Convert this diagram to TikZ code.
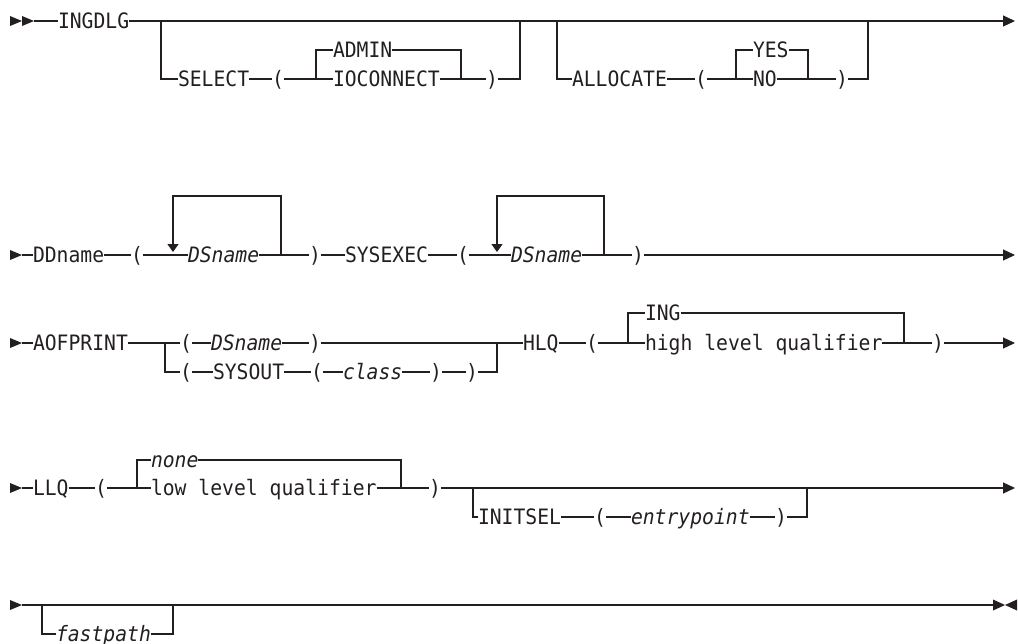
\documentclass[tikz,border=0pt]{standalone}
\usepackage{fontspec}
\newfontfamily\synfont{DejaVu Sans Mono}[FakeStretch=0.93,ItalicFont={DejaVu Sans Mono Oblique}]
\usetikzlibrary{arrows.meta}
\definecolor{ink}{RGB}{35,31,32}
\tikzset{
  tok/.style={font=\synfont\fontsize{21.2}{22}\selectfont, inner sep=0pt, outer sep=0pt,
              text height=15.4pt, text depth=0pt, anchor=west, text=ink},
  var/.style={tok, font=\synfont\itshape\fontsize{21.2}{22}\selectfont},
  endtip/.style={-{Triangle[width=11pt,length=12pt]}},
  looptip/.style={-{Triangle[width=11pt,length=8pt]}},
}
\begin{document}
\begin{tikzpicture}[x=1pt,y=-1pt,line width=1.2pt,draw=ink]
\useasboundingbox (0,0) rectangle (1018,643);

% ---------- Row 1 ----------
\fill[ink] (10,16)--(22,21)--(10,26)--cycle (22,16)--(34,21)--(22,26)--cycle;
\coordinate (r1s) at (34,21);
\coordinate (r1e) at (1015,21);
\node[tok] (ingdlg) at (58,21) {INGDLG};
\draw (r1s) -- (ingdlg.west);
\draw[endtip] (ingdlg.east) -- (r1e);

\coordinate (j1a) at (161,21);
\coordinate (j1b) at (520,21);
\coordinate (k1a) at (316,79);
\coordinate (k1b) at (461,79);
\node[tok] (select) at (178,79) {SELECT};
\node[tok] (lp1) at (272,79) {(};
\node[tok] (admin) at (333,50) {ADMIN};
\node[tok] (ioconn) at (333,79) {IOCONNECT};
\node[tok] (rp1) at (486,79) {)};
\draw (j1a) |- (select.west);
\draw (select.east) -- (lp1.west);
\draw (lp1.east) -- (ioconn.west);
\draw (k1a) |- (admin.west);
\draw (admin.east) -| (k1b);
\draw (ioconn.east) -- (rp1.west);
\draw (rp1.east) -| (j1b);

\coordinate (j2a) at (557,21);
\coordinate (j2b) at (868,21);
\coordinate (k2a) at (736,79);
\coordinate (k2b) at (808,79);
\node[tok] (allocate) at (572,79) {ALLOCATE};
\node[tok] (lp2) at (695,79) {(};
\node[tok] (yes) at (753,50) {YES};
\node[tok] (no) at (753,79) {NO};
\node[tok] (rp2) at (836,79) {)};
\draw (j2a) |- (allocate.west);
\draw (allocate.east) -- (lp2.west);
\draw (lp2.east) -- (no.west);
\draw (k2a) |- (yes.west);
\draw (yes.east) -| (k2b);
\draw (no.east) -- (rp2.west);
\draw (rp2.east) -| (j2b);

% ---------- Row 2 ----------
\fill[ink] (10,250)--(22,255)--(10,260)--cycle;
\coordinate (r2s) at (22,255);
\coordinate (r2e) at (1015,255);
\node[tok] (ddname) at (33,255) {DDname};
\node[tok] (lp3) at (131,255) {(};
\node[var] (ds1) at (188,255) {DSname};
\node[tok] (rp3) at (309,255) {)};
\node[tok] (sysexec) at (345,255) {SYSEXEC};
\node[tok] (lp4) at (457,255) {(};
\node[var] (ds2) at (511,255) {DSname};
\node[tok] (rp4) at (632,255) {)};
\draw (r2s) -- (ddname.west);
\draw (ddname.east) -- (lp3.west);
\draw (lp3.east) -- (ds1.west);
\draw (ds1.east) -- (rp3.west);
\draw (rp3.east) -- (sysexec.west);
\draw (sysexec.east) -- (lp4.west);
\draw (lp4.east) -- (ds2.west);
\draw (ds2.east) -- (rp4.west);
\draw[endtip] (rp4.east) -- (r2e);

\coordinate (l1b) at (281,255);
\coordinate (l1t) at (173,196);
\coordinate (l1a) at (173,252);
\draw[looptip] (l1b) |- (l1t) -- (l1a);
\coordinate (l2b) at (604,255);
\coordinate (l2t) at (497,196);
\coordinate (l2a) at (497,252);
\draw[looptip] (l2b) |- (l2t) -- (l2a);

% ---------- Row 3 ----------
\fill[ink] (10,338)--(22,343)--(10,348)--cycle;
\coordinate (r3s) at (22,343);
\coordinate (r3e) at (1015,343);
\coordinate (j3a) at (165,343);
\coordinate (j3b) at (497,343);
\node[tok] (aofprint) at (33,343) {AOFPRINT};
\node[tok] (lp5) at (180,343) {(};
\node[var] (ds3) at (211,343) {DSname};
\node[tok] (rp5) at (309,343) {)};
\node[tok] (lp6) at (180,372) {(};
\node[tok] (sysout) at (213,372) {SYSOUT};
\node[tok] (lp7) at (311,372) {(};
\node[var] (class) at (343,372) {class};
\node[tok] (rp7) at (430,372) {)};
\node[tok] (rp6) at (466,372) {)};
\draw (r3s) -- (aofprint.west);
\draw (aofprint.east) -- (lp5.west);
\draw (lp5.east) -- (ds3.west);
\draw (ds3.east) -- (rp5.west);
\draw (j3a) |- (lp6.west);
\draw (lp6.east) -- (sysout.west);
\draw (sysout.east) -- (lp7.west);
\draw (lp7.east) -- (class.west);
\draw (class.east) -- (rp7.west);
\draw (rp7.east) -- (rp6.west);
\draw (rp6.east) -| (j3b);

\coordinate (k3a) at (628,343);
\coordinate (k3b) at (904,343);
\node[tok] (hlq) at (523,343) {HLQ};
\node[tok] (lp8) at (586,343) {(};
\node[tok] (ing) at (645,313) {ING};
\node[tok] (hlqual) at (645,343) {high level qualifier};
\node[tok] (rp8) at (932,343) {)};
\draw (rp5.east) -- (hlq.west);
\draw (hlq.east) -- (lp8.west);
\draw (lp8.east) -- (hlqual.west);
\draw (k3a) |- (ing.west);
\draw (ing.east) -| (k3b);
\draw (hlqual.east) -- (rp8.west);
\draw[endtip] (rp8.east) -- (r3e);

% ---------- Row 4 ----------
\fill[ink] (10,483)--(22,488)--(10,493)--cycle;
\coordinate (r4s) at (22,488);
\coordinate (r4e) at (1015,488);
\coordinate (k4a) at (137,488);
\coordinate (k4b) at (401,488);
\node[tok] (llq) at (33,488) {LLQ};
\node[tok] (lp9) at (95,488) {(};
\node[var] (none) at (151,460) {none};
\node[tok] (llqual) at (151,488) {low level qualifier};
\node[tok] (rp9) at (429,488) {)};
\draw (r4s) -- (llq.west);
\draw (llq.east) -- (lp9.west);
\draw (lp9.east) -- (llqual.west);
\draw (k4a) |- (none.west);
\draw (none.east) -| (k4b);
\draw (llqual.east) -- (rp9.west);
\draw[endtip] (rp9.east) -- (r4e);

\coordinate (j4a) at (473,488);
\coordinate (j4b) at (807,488);
\node[tok] (initsel) at (478,517) {INITSEL};
\node[tok] (lp10) at (594,517) {(};
\node[var] (entry) at (631,517) {entrypoint};
\node[tok] (rp10) at (775,517) {)};
\draw (j4a) |- (initsel.west);
\draw (initsel.east) -- (lp10.west);
\draw (lp10.east) -- (entry.west);
\draw (entry.east) -- (rp10.west);
\draw (rp10.east) -| (j4b);

% ---------- Row 5 ----------
\fill[ink] (10,600)--(22,605)--(10,610)--cycle;
\coordinate (r5s) at (22,605);
\coordinate (r5e) at (993,605);
\coordinate (j5a) at (42,605);
\coordinate (j5b) at (173,605);
\node[var] (fastpath) at (56,634) {fastpath};
\draw (r5s) -- (r5e);
\draw (j5a) |- (fastpath.west);
\draw (fastpath.east) -| (j5b);
\fill[ink] (993,599.5)--(1005,605)--(993,610.5)--cycle (1017,599.5)--(1005,605)--(1017,610.5)--cycle;
\end{tikzpicture}
\end{document}
